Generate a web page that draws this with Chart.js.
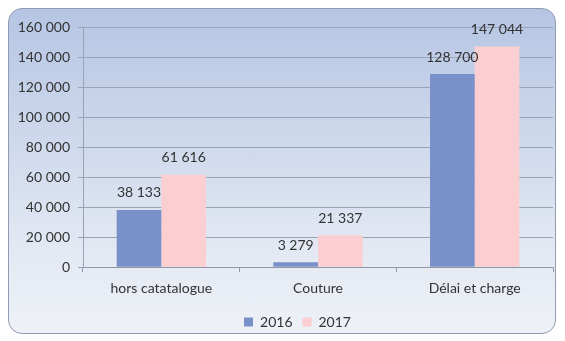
<!DOCTYPE html>
<html>
<head>
<meta charset="utf-8">
<script src="https://cdn.jsdelivr.net/npm/chart.js@4"></script>
<style>
  html, body { margin: 0; padding: 0; background: #ffffff; }
  #wrap { position: relative; width: 565px; height: 341px; }
  #frame {
    position: absolute; left: 8px; top: 8px; width: 546px; height: 324px;
    border: 1.5px solid #8f9cb1; border-radius: 14px;
    background: linear-gradient(180deg, #b5c5e3 0%, #cbd6eb 35%, #e1e7f2 70%, #eef1f7 100%);
  }
  canvas { position: absolute; left: 0; top: 0; }
</style>
</head>
<body>
<div id="wrap">
  <div id="frame"></div>
  <canvas id="chart" width="565" height="341"></canvas>
</div>
<script>
const categories = ['hors catatalogue', 'Couture', 'Délai et charge'];
const values2016 = [38133, 3279, 128700];
const values2017 = [61616, 21337, 147044];
const seriesNames = ['2016', '2017'];
const yTicks = [0, 20000, 40000, 60000, 80000, 100000, 120000, 140000, 160000];

const FONT = 'Lato, "Open Sans", sans-serif';
const TEXT = '#333333';

// 38133 -> "38 133"
function fmt(n) {
  return String(n).replace(/\B(?=(\d{3})+(?!\d))/g, ' ');
}

// value labels above every bar
const barLabels = {
  id: 'barLabels',
  afterDatasetsDraw(chart) {
    const ctx = chart.ctx;
    ctx.save();
    ctx.font = '14px ' + FONT;
    ctx.fillStyle = TEXT;
    ctx.textAlign = 'center';
    ctx.textBaseline = 'middle';
    chart.data.datasets.forEach((ds, i) => {
      chart.getDatasetMeta(i).data.forEach((bar, j) => {
        ctx.fillText(fmt(ds.data[j]), bar.x, bar.y - 17);
      });
    });
    ctx.restore();
  }
};

// legend sits a bit right of the canvas centre, under the plot
const legendShift = {
  id: 'legendShift',
  afterLayout(chart) {
    chart.legend.left += 16;
    chart.legend.right += 16;
  }
};

new Chart(document.getElementById('chart'), {
  type: 'bar',
  data: {
    labels: categories,
    datasets: [
      { label: seriesNames[0], data: values2016, backgroundColor: '#7990c9' },
      { label: seriesNames[1], data: values2017, backgroundColor: '#fbcfd1' }
    ]
  },
  options: {
    responsive: false,
    animation: false,
    devicePixelRatio: 1,
    layout: { padding: { left: 10, right: 12, top: 27, bottom: 2 } },
    datasets: {
      bar: { categoryPercentage: 0.57, barPercentage: 1.0 }
    },
    plugins: {
      legend: {
        position: 'bottom',
        labels: {
          boxWidth: 9, boxHeight: 9, padding: 10,
          color: TEXT, font: { family: FONT, size: 14 }
        }
      },
      tooltip: { enabled: false }
    },
    scales: {
      x: {
        grid: {
          offset: true, drawOnChartArea: false, drawTicks: true,
          tickLength: 5, color: '#8d97a8'
        },
        border: { color: '#8d97a8' },
        ticks: { color: TEXT, padding: 8, font: { family: FONT, size: 14 } }
      },
      y: {
        min: 0, max: 160000,
        afterFit(scale) { scale.width = 73; },
        afterBuildTicks(scale) { scale.ticks = yTicks.map(v => ({ value: v })); },
        grid: { color: '#98a3b5', tickLength: 5 },
        border: { color: '#98a3b5' },
        ticks: {
          color: TEXT, padding: 8, font: { family: FONT, size: 14 },
          callback: v => fmt(v)
        }
      }
    }
  },
  plugins: [barLabels, legendShift]
});
</script>
</body>
</html>
